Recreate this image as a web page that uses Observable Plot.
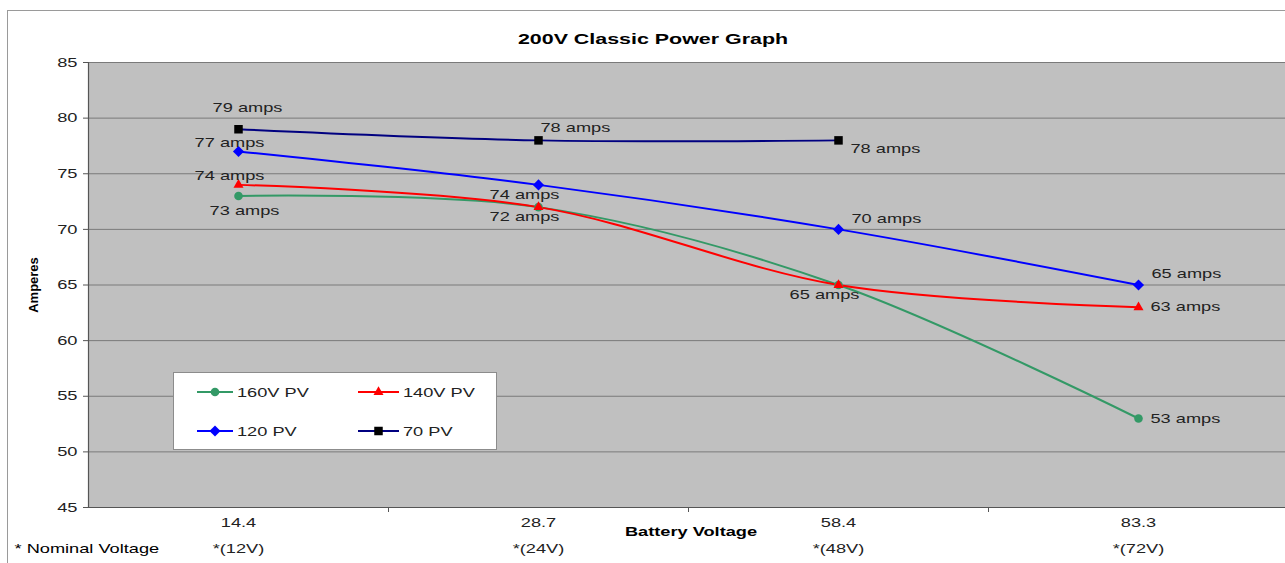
<!DOCTYPE html>
<html>
<head>
<meta charset="utf-8">
<script src="https://cdn.jsdelivr.net/npm/d3@7"></script>
<script src="https://cdn.jsdelivr.net/npm/@observablehq/plot@0.6"></script>
<style>
  html, body { margin: 0; padding: 0; background: #fff; }
  #wrap { position: relative; width: 1285px; height: 563px; overflow: hidden; font-family: "Liberation Sans", Arial, sans-serif; }
  #border { position: absolute; left: 7px; top: 10px; width: 1400px; height: 700px; border: 1px solid #9a9a9a; box-sizing: border-box; }
  #chart { position: absolute; left: 0; top: 0; }
  #legend { position: absolute; left: 173px; top: 372px; width: 324px; height: 78px; background: #fff; border: 1px solid #8c8c8c; box-sizing: border-box; }
  .li { position: absolute; height: 16px; display: flex; align-items: center; }
  .li span { display: inline-block; font-size: 13px; color: #222; transform: scaleX(1.4); transform-origin: left center; margin-left: 4px; white-space: nowrap; }
</style>
</head>
<body>
<div id="wrap">
  <div id="border"></div>
  <div id="chart"></div>
  <div id="legend"></div>
</div>
<script>
// ---- data ----
const categories = ["14.4", "28.7", "58.4", "83.3"];
const nominal = ["12V", "24V", "48V", "72V"];
const seriesNames = ["160V PV", "140V PV", "120 PV", "70 PV"];
const amps160 = [73, 72, 65, 53];
const amps140 = [74, 72, 65, 63];
const amps120 = [77, 74, 70, 65];
const amps70 = [79, 78, 78, null];
const yTicks = [45, 50, 55, 60, 65, 70, 75, 80, 85];
const lineColors = ["#339966", "#ff0000", "#0000ff", "#000080"];
const markerColors = ["#339966", "#ff0000", "#0000ff", "#000000"];
const markerSymbols = ["circle", "triangle2", "diamond2", "square"];
const markerR = [4.3, 4.8, 5, 4.8];
// value labels: [series index, category index, placement]
const labelList = [
  [3, 0, "N"], [3, 1, "NNE"], [3, 2, "SE"],
  [2, 0, "NW"], [2, 1, "SW"], [2, 2, "NE"], [2, 3, "NE"],
  [1, 0, "NW"], [1, 1, "SW"], [1, 2, "SW"], [1, 3, "E"],
  [0, 0, "S"], [0, 3, "E"]
];

const allValues = [amps160, amps140, amps120, amps70];
const rows = [];
allValues.forEach((vals, s) => vals.forEach((v, i) => { if (v != null) rows.push({s, i, value: v}); }));
const labels = labelList.map(([s, i, pos]) => ({s, i, value: allValues[s][i], pos}));

const placements = {
  N:   {textAnchor: "middle", dx: 9,   dy: -21},
  NNE: {textAnchor: "start",  dx: 2,   dy: -13},
  NE:  {textAnchor: "start",  dx: 13,  dy: -11},
  SE:  {textAnchor: "start",  dx: 12,  dy: 8},
  E:   {textAnchor: "start",  dx: 12,  dy: 0},
  NW:  {textAnchor: "middle", dx: -9,  dy: -9},
  SW:  {textAnchor: "middle", dx: -14, dy: 10},
  S:   {textAnchor: "middle", dx: 6,   dy: 15}
};

const boundaries = categories.map((_, i) => i + 0.5);

const labelMarks = Object.entries(placements).map(([pos, o]) =>
  Plot.text(labels.filter(d => d.pos === pos), {
    x: "i", y: "value", text: d => `${d.value} amps`,
    textAnchor: o.textAnchor, dx: o.dx, dy: o.dy, fontSize: 13, fill: "#222"
  })
);

const dotMarks = seriesNames.map((_, s) =>
  Plot.dot(rows.filter(d => d.s === s), {
    x: "i", y: "value", symbol: markerSymbols[s], fill: markerColors[s], r: markerR[s], stroke: "none"
  })
);

const chart = Plot.plot({
  width: 1285,
  height: 563,
  marginTop: 62,
  marginBottom: 56,
  marginLeft: 88,
  marginRight: 0,
  style: {fontFamily: "'Liberation Sans', Arial, sans-serif", fontSize: "13px", background: "transparent", overflow: "visible"},
  x: {type: "linear", domain: [-0.5, categories.length - 0.5], range: [88, 1288]},
  y: {domain: [45, 85]},
  marks: [
    Plot.frame({fill: "#c0c0c0"}),
    Plot.gridY(yTicks, {stroke: "#7a7a7a", strokeOpacity: 1}),
    Plot.ruleX([-0.5], {stroke: "#555", strokeWidth: 1.2}),
    Plot.ruleY([45], {stroke: "#555", strokeWidth: 1.2}),
    Plot.axisY(yTicks, {tickSize: 5, tickPadding: 6, label: null, fontSize: 13, fill: "#222", stroke: "#555"}),
    Plot.axisX(boundaries, {tickSize: 5, tickFormat: () => "", label: null, stroke: "#555"}),
    Plot.axisX(categories.map((_, i) => i), {
      tickSize: 0, tickPadding: 1, label: null, lineHeight: 2, fontSize: 13, fill: "#222",
      tickFormat: i => `${categories[i]}\n*(${nominal[i]})`
    }),
    Plot.line(rows, {x: "i", y: "value", z: "s", stroke: d => lineColors[d.s], strokeWidth: 2, curve: "catmull-rom"}),
    ...dotMarks,
    ...labelMarks,
    Plot.text(["200V Classic Power Graph"], {frameAnchor: "top", dx: -34, dy: -29, fontWeight: "bold", fontSize: 15.3, fill: "#000"}),
    Plot.text(["Battery Voltage"], {frameAnchor: "bottom", dx: 4, dy: 28, fontWeight: "bold", fontSize: 13, fill: "#000"}),
    Plot.text(["* Nominal Voltage"], {frameAnchor: "bottom-left", dx: -74, dy: 45, textAnchor: "start", fontSize: 13, fill: "#000"}),
    Plot.text(["Amperes"], {frameAnchor: "left", dx: -55, rotate: -90, textAnchor: "middle", fontWeight: "bold", fontSize: 13, fill: "#000", className: "nostretch"})
  ]
});

document.getElementById("chart").appendChild(chart);

// horizontal stretch of text to match the reference's wide lettering
const STRETCH = 1.4;
chart.querySelectorAll("text").forEach(t => {
  if (t.closest(".nostretch")) return;
  const tspans = t.querySelectorAll("tspan");
  const targets = tspans.length ? Array.from(tspans) : [t];
  targets.forEach(el => {
    const L = el.getComputedTextLength();
    if (L > 0) {
      el.setAttribute("textLength", (L * STRETCH).toFixed(1));
      el.setAttribute("lengthAdjust", "spacingAndGlyphs");
    }
  });
});

// legend
const legend = document.getElementById("legend");
seriesNames.forEach((name, k) => {
  const col = k % 2, row = Math.floor(k / 2);
  const item = document.createElement("div");
  item.className = "li";
  item.style.left = (col === 0 ? 23 : 184) + "px";
  item.style.top = (row === 0 ? 11 : 50) + "px";
  const sym = d3.symbol(d3[{circle: "symbolCircle", triangle2: "symbolTriangle2", diamond2: "symbolDiamond2", square: "symbolSquare"}[markerSymbols[k]]], Math.PI * markerR[k] * markerR[k])();
  const w = col === 0 ? 36 : 41;
  item.innerHTML = `<svg width="${w}" height="16"><line x1="0" x2="${w}" y1="8" y2="8" stroke="${lineColors[k]}" stroke-width="2"/><path d="${sym}" transform="translate(${w / 2},8)" fill="${markerColors[k]}"/></svg><span>${name}</span>`;
  legend.appendChild(item);
});
</script>
</body>
</html>
